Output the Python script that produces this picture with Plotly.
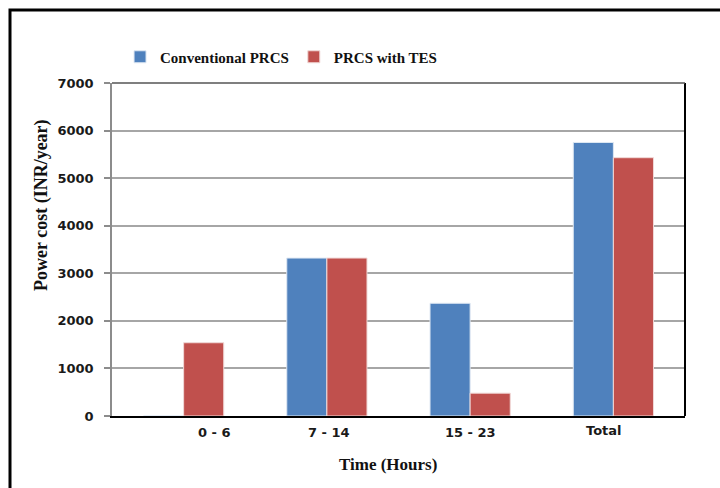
import plotly.graph_objects as go

# Power cost per time window, INR/year
categories = ["0 - 6", "7 - 14", "15 - 23", "Total"]
conventional = [0, 3320, 2370, 5750]
with_tes = [1540, 3320, 480, 5430]
y_ticks = [0, 1000, 2000, 3000, 4000, 5000, 6000, 7000]

BLUE = "#4F81BD"
RED = "#C0504D"
serif = "Liberation Serif"
sans = "DejaVu Sans"

fig = go.Figure()
fig.add_trace(go.Bar(
    x=categories, y=conventional, name="Conventional PRCS",
    marker=dict(color=BLUE, line=dict(color="#dfe8f3", width=1)),
))
fig.add_trace(go.Bar(
    x=categories, y=with_tes, name="PRCS with TES",
    marker=dict(color=RED, line=dict(color="#f0d8d7", width=1)),
))

# category labels under the axis, nudged the way the chart sets them
label_shift = [31, 2, 0, -9]
label_dy = [-16, -16, -16, -14]
annotations = []
for c, dx, dy in zip(categories, label_shift, label_dy):
    annotations.append(dict(
        x=c, y=0, xref="x", yref="y", text=f"<b>{c}</b>", showarrow=False,
        xanchor="center", yanchor="middle",
        xshift=dx, yshift=dy, font=dict(family=sans, size=13, color="#1a1a1a"),
    ))
annotations.append(dict(
    x=(388 - 112) / 573, y=(416 - 465) / 333, xref="paper", yref="paper",
    xanchor="center", yanchor="middle",
    text="<b>Time (Hours)</b>", showarrow=False,
    font=dict(family=serif, size=17, color="#111"),
))
annotations.append(dict(
    x=(41 - 112) / 573, y=(416 - 205) / 333, xref="paper", yref="paper",
    xanchor="center", yanchor="middle",
    text="<b>Power cost (INR/year)</b>", showarrow=False, textangle=-90,
    font=dict(family=serif, size=18, color="#111"),
))

shapes = [
    # outer frame
    dict(type="rect", xref="paper", yref="paper",
         x0=(10 - 112) / 573, x1=(740 - 112) / 573,
         y0=(416 - 520) / 333, y1=(416 - 10) / 333,
         line=dict(color="black", width=3), layer="above"),
    # right edge of plot area
    dict(type="line", xref="paper", yref="paper", x0=1, x1=1, y0=0, y1=1,
         line=dict(color="black", width=2)),
    # top edge of plot area
    dict(type="line", xref="paper", yref="paper", x0=0, x1=1, y0=1, y1=1,
         line=dict(color="#555555", width=1.5)),
]

fig.update_layout(
    width=720, height=488,
    margin=dict(l=112, r=35, t=83, b=72),
    paper_bgcolor="white", plot_bgcolor="white",
    barmode="group", bargap=0.44, bargroupgap=0,
    showlegend=True,
    legend=dict(
        orientation="h", x=0.295, y=1.078, xanchor="center", yanchor="middle",
        font=dict(family=serif, size=15, color="#111", weight="bold"),
        itemwidth=30, tracegroupgap=0,
    ),
    annotations=annotations,
    shapes=shapes,
)
fig.update_xaxes(
    showticklabels=False, showgrid=False, ticks="",
    showline=True, linecolor="black", linewidth=2,
)
fig.update_yaxes(
    range=[0, 7000], tickvals=y_ticks, ticktext=[f"<b>{v}</b>" for v in y_ticks],
    tickfont=dict(family=sans, size=13, color="#1a1a1a"),
    showgrid=True, gridcolor="#a6a6a6", gridwidth=1.5,
    showline=True, linecolor="#8c8c8c", linewidth=1.5,
    ticks="outside", ticklen=6, tickcolor="#8c8c8c", tickwidth=1.5,
    ticklabelstandoff=8, zeroline=False,
)

fig.write_html("out.html")
